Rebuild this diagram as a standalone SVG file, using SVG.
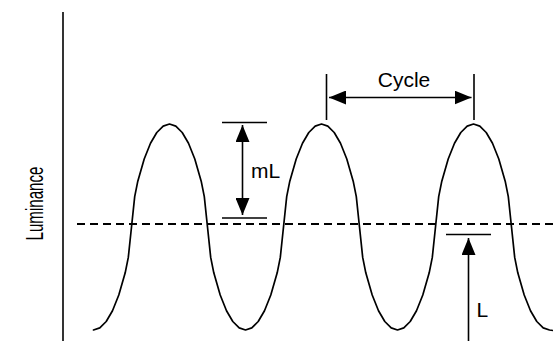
<svg xmlns="http://www.w3.org/2000/svg" width="553" height="341" viewBox="0 0 553 341">
<style>
.ln{stroke:#000;stroke-width:1.6;fill:none}
.cv{stroke:#000;stroke-width:1.7;fill:none;stroke-linejoin:round;stroke-linecap:round}
.ds{stroke:#000;stroke-width:1.8;stroke-dasharray:8 5;fill:none}
.tx{font-family:"Liberation Sans",Arial,sans-serif;font-size:21px;fill:#000}
.yl{font-size:23px}
</style>
<defs>
<marker id="ah" markerUnits="userSpaceOnUse" markerWidth="18" markerHeight="14" refX="17" refY="7" orient="auto-start-reverse">
<path d="M0,0 L17,7 L0,14 Z" fill="#000"/>
</marker>
</defs>
<rect width="553" height="341" fill="#fff"/>
<g id="axis">
<line class="ln" x1="63" y1="12" x2="63" y2="341" stroke-width="2"/>
<text class="tx yl" transform="translate(43,203.5) rotate(-90)" text-anchor="middle" textLength="74" lengthAdjust="spacingAndGlyphs">Luminance</text>
</g>
<g id="mean">
<line class="ds" x1="77" y1="224" x2="553" y2="224"/>
</g>
<g id="wave">
<polyline class="cv" points="93.5,330 99.8,327.9 106.2,321.5 112.5,310.7 118.8,295 125.2,272.8 128.3,257.4 131.5,227 134.7,196.6 137.8,181.2 144.2,159 150.5,143.3 156.8,132.5 163.2,126.1 169.5,124 175.8,126.1 182.2,132.5 188.5,143.3 194.8,159 201.2,181.2 204.3,196.6 207.5,227 210.7,257.4 213.8,272.8 220.2,295 226.5,310.7 232.8,321.5 239.2,327.9 245.5,330 251.8,327.9 258.2,321.5 264.5,310.7 270.8,295 277.2,272.8 280.3,257.4 283.5,227 286.7,196.6 289.8,181.2 296.2,159 302.5,143.3 308.8,132.5 315.2,126.1 321.5,124 327.8,126.1 334.2,132.5 340.5,143.3 346.8,159 353.2,181.2 356.3,196.6 359.5,227 362.7,257.4 365.8,272.8 372.2,295 378.5,310.7 384.8,321.5 391.2,327.9 397.5,330 403.8,327.9 410.2,321.5 416.5,310.7 422.8,295 429.2,272.8 432.3,257.4 435.5,227 438.7,196.6 441.8,181.2 448.2,159 454.5,143.3 460.8,132.5 467.2,126.1 473.5,124 479.8,126.1 486.2,132.5 492.5,143.3 498.8,159 505.2,181.2 508.3,196.6 511.5,227 514.7,257.4 517.8,272.8 524.2,295 530.5,310.7 536.8,321.5 543.2,327.9 549.5,330 553,330.5"/>
</g>
<g id="cycle">
<line class="ln" x1="326.5" y1="74" x2="326.5" y2="120"/>
<line class="ln" x1="474" y1="74" x2="474" y2="120"/>
<line class="ln" x1="329" y1="97.5" x2="471.5" y2="97.5" marker-start="url(#ah)" marker-end="url(#ah)"/>
<text class="tx" x="404" y="87" text-anchor="middle">Cycle</text>
</g>
<g id="mL">
<line class="ln" x1="222" y1="122.5" x2="267" y2="122.5"/>
<line class="ln" x1="222" y1="218" x2="267" y2="218"/>
<line class="ln" x1="242.5" y1="125" x2="242.5" y2="215" marker-start="url(#ah)" marker-end="url(#ah)"/>
<text class="tx" x="251" y="178">mL</text>
</g>
<g id="L">
<line class="ln" x1="446" y1="234.5" x2="491" y2="234.5"/>
<line class="ln" x1="468.5" y1="341" x2="468.5" y2="238" marker-end="url(#ah)"/>
<text class="tx" x="476.5" y="317">L</text>
</g>
</svg>
